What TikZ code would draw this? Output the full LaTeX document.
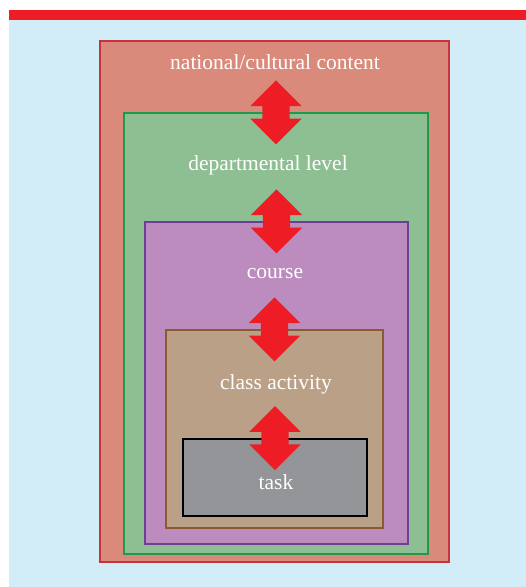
\documentclass[tikz,border=0pt]{standalone}
\usepackage{fontspec}
\setmainfont{Liberation Serif}
\usepackage{tikz}
\usetikzlibrary{backgrounds,shapes,shapes.arrows,fit}
\pgfdeclarelayer{backlayer}
\pgfdeclarelayer{boxlayer}
\pgfdeclarelayer{arrowlayer}
\pgfsetlayers{backlayer,boxlayer,arrowlayer,main}
\definecolor{skyback}{HTML}{D2ECF8}
\definecolor{topred}{HTML}{EE1C25}
\definecolor{natfill}{HTML}{DA8A7A}
\definecolor{natline}{HTML}{C8323A}
\definecolor{depfill}{HTML}{8EBF92}
\definecolor{depline}{HTML}{1E9A4A}
\definecolor{crsfill}{HTML}{BC8CBF}
\definecolor{crsline}{HTML}{6E3F98}
\definecolor{clsfill}{HTML}{BBA088}
\definecolor{clsline}{HTML}{8B5A32}
\definecolor{tskfill}{HTML}{939598}
\tikzstyle{level}=[rectangle, draw, line width=1.4pt, inner sep=0pt]
\tikzstyle{label}=[text=white, font=\fontsize{21.5}{25}\selectfont, inner sep=0pt]
\tikzstyle{link}=[double arrow, fill=topred, draw=none, rotate=90, minimum height=64pt, minimum width=51pt, double arrow head extend=12pt, inner xsep=0pt, inner ysep=13.5pt]

\begin{document}
\begin{tikzpicture}[x=1pt, y=-1pt]
            \useasboundingbox (0, 0) rectangle (526, 587);
            \begin{pgfonlayer}{backlayer}
                \fill [skyback] (9, 20) rectangle (526, 587);
                \fill [topred] (9, 10) rectangle (526, 20);
            \end{pgfonlayer}
            \begin{pgfonlayer}{boxlayer}
                \node [style=level, fill=natfill, draw=natline, minimum width=349pt, minimum height=521pt] (nat) at (274.5, 301.5) {};
                \node [style=level, fill=depfill, draw=depline, minimum width=304pt, minimum height=441pt] (dep) at (276, 333.5) {};
                \node [style=level, fill=crsfill, draw=crsline, minimum width=263pt, minimum height=322pt] (crs) at (276.5, 383) {};
                \node [style=level, fill=clsfill, draw=clsline, minimum width=217pt, minimum height=198pt] (cls) at (274.5, 429) {};
                \node [style=level, fill=tskfill, draw=black, line width=1.8pt, minimum width=184pt, minimum height=77pt] (tsk) at (275, 477.5) {};
            \end{pgfonlayer}
            \begin{pgfonlayer}{arrowlayer}
                \node [style=link] (natdep) at (dep.north) {};
                \node [style=link] (depcrs) at (crs.north) {};
                \node [style=link] (crscls) at (cls.north) {};
                \node [style=link] (clstsk) at (tsk.north) {};
            \end{pgfonlayer}
            \node [style=label] (natname) at (275, 62) {national/cultural content};
            \node [style=label] (depname) at (268, 165) {departmental level};
            \node [style=label] (crsname) at (275, 274) {course};
            \node [style=label] (clsname) at (276, 384) {class activity};
            \node [style=label] (tskname) at (276, 482) {task};
        \end{tikzpicture}
\end{document}
